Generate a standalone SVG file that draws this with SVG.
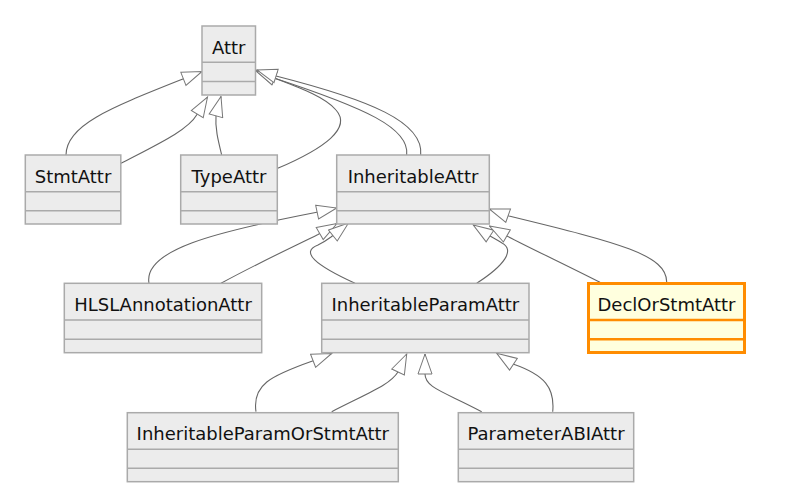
<svg xmlns="http://www.w3.org/2000/svg" width="794" height="503" viewBox="0 0 794 503">
<style>
.box{fill:#ececec;stroke:#aaaaaa;stroke-width:1.5}
.div{stroke:#aaaaaa;stroke-width:1.5}
.hl .box{fill:#ffffde;stroke:#ff8c00;stroke-width:3}
.hl .div{stroke:#ff8c00;stroke-width:2.5}
text{font-family:"DejaVu Sans","Liberation Sans",sans-serif;font-size:18px;fill:#111111;text-anchor:middle}
.edge{fill:none;stroke:#666666;stroke-width:1.1;marker-end:url(#ext)}
</style>
<defs>
<marker id="ext" viewBox="0 0 22 16" refX="21" refY="8" markerWidth="22" markerHeight="16" markerUnits="userSpaceOnUse" orient="auto">
<path d="M1,1 L21,8 L1,15 Z" fill="#ffffff" stroke="#777777" stroke-width="1"/>
</marker>
</defs>
<rect width="794" height="503" fill="#ffffff"/>
<g id="connectors">
<path class="edge" d="M66,155 C66,125 110,108 183,79 L202,71.5"/>
<path class="edge" d="M121,163.3 C160,143 188,130 197,114.5 L207.5,97"/>
<path class="edge" d="M221.7,155 C218,140 215,128 216,115.5 L221,96.5"/>
<path class="edge" d="M277.7,168.3 C325,148 352,128 336,110 C325,97 300,88 274,78 L256,70.5"/>
<path class="edge" d="M406.7,155 C410,128 365,108 274,78 L256,71"/>
<path class="edge" d="M420.7,155 C424,122 370,100 276,76 L257,70"/>
<path class="edge" d="M149,283.3 C143,250 215,232 315.5,212.5 L336.7,208"/>
<path class="edge" d="M221,283.3 C260,262 295,246 318,234.5 L337,223.5"/>
<path class="edge" d="M355,283.3 C315,265 300,252 318,245 C324,242 327,240 331,237 L348.5,223"/>
<path class="edge" d="M476.7,283.3 C505,265 515,250 502,243 C497,240 494,238 490,236 L473.3,225"/>
<path class="edge" d="M600,282.3 C570,267 530,248 507,236 L489.5,226"/>
<path class="edge" d="M666.7,282.3 C667,255 620,243 509,216 L489.3,209"/>
<path class="edge" d="M256,411.7 C252,385 270,376 312.5,361 L331.7,353.5"/>
<path class="edge" d="M331.7,411.7 C370,392 390,385 398.3,371.5 L406.7,354"/>
<path class="edge" d="M481.7,411.7 C445,392 425,388 425,374 L425,354"/>
<path class="edge" d="M552.7,411.7 C555,388 545,375 513,364 L496.7,353.3"/>
</g>
<g id="Attr">
<rect class="box" x="202" y="26" width="53.5" height="69"/>
<line class="div" x1="202" y1="62.3" x2="255.5" y2="62.3"/>
<line class="div" x1="202" y1="81.5" x2="255.5" y2="81.5"/>
<text x="228.7" y="54">Attr</text>
</g>
<g id="StmtAttr">
<rect class="box" x="25.3" y="155" width="95.5" height="69"/>
<line class="div" x1="25.3" y1="191.7" x2="120.8" y2="191.7"/>
<line class="div" x1="25.3" y1="210.7" x2="120.8" y2="210.7"/>
<text x="73" y="182.5">StmtAttr</text>
</g>
<g id="TypeAttr">
<rect class="box" x="180.7" y="155" width="96.6" height="69"/>
<line class="div" x1="180.7" y1="191.7" x2="277.3" y2="191.7"/>
<line class="div" x1="180.7" y1="210.7" x2="277.3" y2="210.7"/>
<text x="229" y="182.5">TypeAttr</text>
</g>
<g id="InheritableAttr">
<rect class="box" x="336.7" y="155" width="152.6" height="69"/>
<line class="div" x1="336.7" y1="191.7" x2="489.3" y2="191.7"/>
<line class="div" x1="336.7" y1="210.7" x2="489.3" y2="210.7"/>
<text x="413" y="182.5">InheritableAttr</text>
</g>
<g id="HLSLAnnotationAttr">
<rect class="box" x="64.3" y="283.3" width="197.4" height="69.4"/>
<line class="div" x1="64.3" y1="320" x2="261.7" y2="320"/>
<line class="div" x1="64.3" y1="339.3" x2="261.7" y2="339.3"/>
<text x="163" y="310.7">HLSLAnnotationAttr</text>
</g>
<g id="InheritableParamAttr">
<rect class="box" x="321.7" y="283.3" width="207.3" height="69.4"/>
<line class="div" x1="321.7" y1="320" x2="529" y2="320"/>
<line class="div" x1="321.7" y1="339.3" x2="529" y2="339.3"/>
<text x="425.3" y="310.7">InheritableParamAttr</text>
</g>
<g id="DeclOrStmtAttr" class="hl">
<rect class="box" x="588.5" y="283.5" width="156" height="69"/>
<line class="div" x1="588.5" y1="320" x2="744.5" y2="320"/>
<line class="div" x1="588.5" y1="339.3" x2="744.5" y2="339.3"/>
<text x="666.5" y="310.7">DeclOrStmtAttr</text>
</g>
<g id="InheritableParamOrStmtAttr">
<rect class="box" x="127.3" y="412.7" width="271" height="69"/>
<line class="div" x1="127.3" y1="449.3" x2="398.3" y2="449.3"/>
<line class="div" x1="127.3" y1="468.3" x2="398.3" y2="468.3"/>
<text x="262.8" y="440">InheritableParamOrStmtAttr</text>
</g>
<g id="ParameterABIAttr">
<rect class="box" x="458.3" y="412.7" width="175.4" height="69"/>
<line class="div" x1="458.3" y1="449.3" x2="633.7" y2="449.3"/>
<line class="div" x1="458.3" y1="468.3" x2="633.7" y2="468.3"/>
<text x="546" y="440">ParameterABIAttr</text>
</g>
</svg>
